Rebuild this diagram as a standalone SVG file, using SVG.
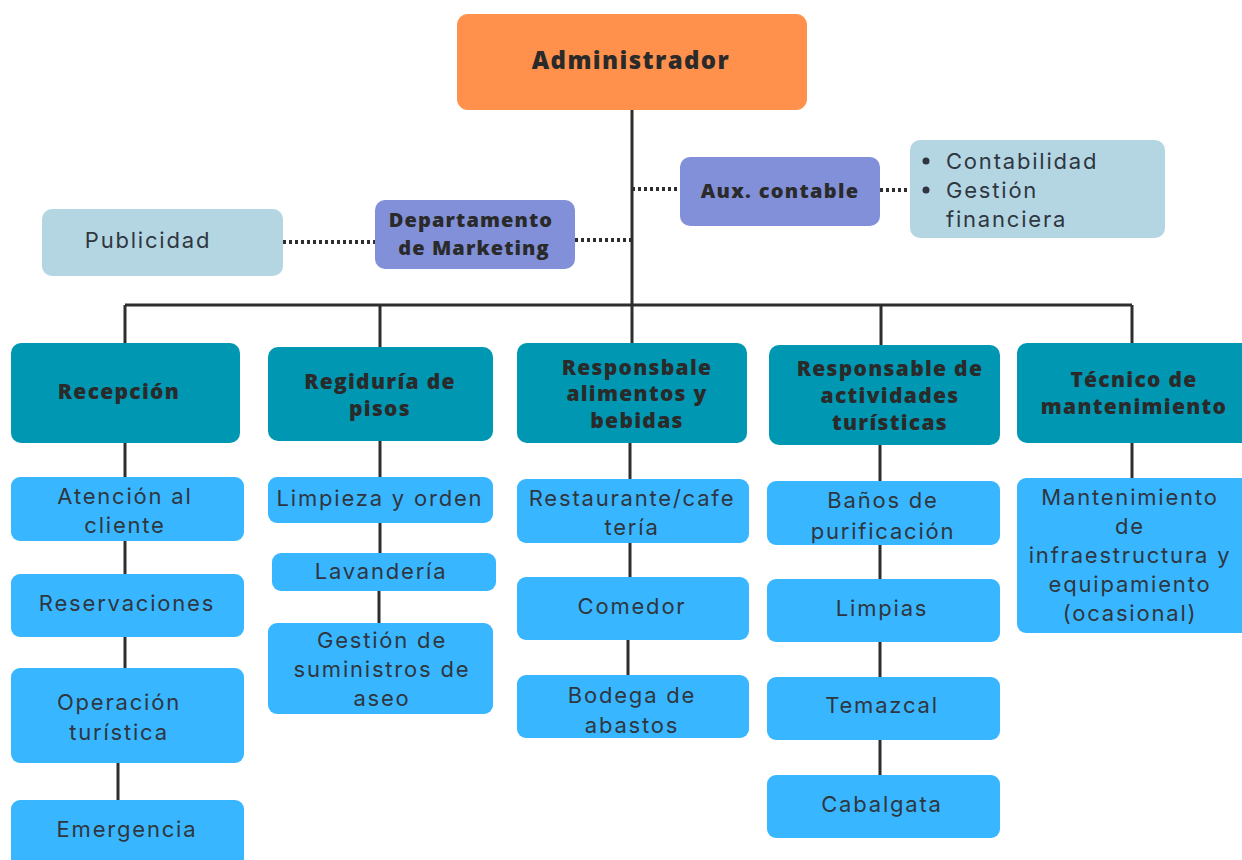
<svg xmlns="http://www.w3.org/2000/svg" width="1242" height="860" viewBox="0 0 1242 860">
  <style>
    .line { stroke: #2e2e2e; stroke-width: 3; fill: none; }
    .dots { stroke: #2e2e2e; stroke-width: 4; stroke-dasharray: 3 3; fill: none; }
    .boss { fill: #FF914D; }
    .aux { fill: #8190D8; }
    .pale { fill: #B4D6E3; }
    .head { fill: #0097B2; }
    .task { fill: #38B6FF; }
    .bt { font-family: "Open Sans", "Liberation Sans", sans-serif; font-weight: 800; font-size: 21px; fill: #2a2a2a; text-anchor: middle; letter-spacing: 1.3px; }
    .nt { font-family: Inter, "Liberation Sans", sans-serif; font-weight: 400; font-size: 22px; fill: #2f3640; text-anchor: middle; letter-spacing: 1.8px; }
  </style>

  <!-- connectors -->
  <g id="connectors">
    <path class="line" d="M632 110 V305 M125 305 H1132 M125 305 V343 M380 305 V347 M632 305 V343 M881 305 V345 M1132 305 V343"/>
    <path class="line" d="M125 443 V477 M125 541 V574 M125 637 V668 M118 763 V800"/>
    <path class="line" d="M380 441 V477 M380 523 V553 M379 591 V623"/>
    <path class="line" d="M630 443 V479 M630 543 V577 M628 640 V675"/>
    <path class="line" d="M880 445 V481 M880 545 V579 M880 642 V677 M880 740 V775"/>
    <path class="line" d="M1132 443 V478"/>
    <path class="dots" d="M632 189 H680 M880 190 H910 M575 240 H632 M283 242 H375"/>
  </g>

  <g id="administrador">
    <rect class="boss" x="457" y="14" width="350" height="96" rx="11"/>
    <text class="bt" x="631" y="69" style="font-size:24px;letter-spacing:1.4px">Administrador</text>
  </g>

  <g id="aux-contable">
    <rect class="aux" x="680" y="157" width="200" height="69" rx="10"/>
    <text class="bt" x="780" y="198" style="font-size:20px;letter-spacing:1.3px">Aux. contable</text>
  </g>

  <g id="finanzas">
    <rect class="pale" x="910" y="140" width="255" height="98" rx="10"/>
    <circle cx="926" cy="161" r="3.5" fill="#2f3640"/>
    <circle cx="926" cy="190" r="3.5" fill="#2f3640"/>
    <text class="nt" x="946" y="169" style="text-anchor:start">Contabilidad</text>
    <text class="nt" x="946" y="198" style="text-anchor:start">Gestión</text>
    <text class="nt" x="946" y="227" style="text-anchor:start">financiera</text>
  </g>

  <g id="marketing">
    <rect class="aux" x="375" y="200" width="200" height="69" rx="10"/>
    <text class="bt" x="471" y="227" style="font-size:20px;letter-spacing:1.1px">Departamento</text>
    <text class="bt" x="474" y="255" style="font-size:20px;letter-spacing:1.1px">de Marketing</text>
  </g>

  <g id="publicidad">
    <rect class="pale" x="42" y="209" width="241" height="67" rx="10"/>
    <text class="nt" x="148" y="248">Publicidad</text>
  </g>

  <!-- area heads -->
  <g id="recepcion">
    <rect class="head" x="11" y="343" width="229" height="100" rx="10"/>
    <text class="bt" x="119" y="399">Recepción</text>
  </g>
  <g id="regiduria">
    <rect class="head" x="268" y="347" width="225" height="94" rx="10"/>
    <text class="bt" x="380" y="389">Regiduría de</text>
    <text class="bt" x="380" y="416">pisos</text>
  </g>
  <g id="alimentos">
    <rect class="head" x="517" y="343" width="230" height="100" rx="10"/>
    <text class="bt" x="637" y="375">Responsbale</text>
    <text class="bt" x="637" y="401">alimentos y</text>
    <text class="bt" x="637" y="428">bebidas</text>
  </g>
  <g id="actividades">
    <rect class="head" x="769" y="345" width="231" height="100" rx="10"/>
    <text class="bt" x="890" y="376">Responsable de</text>
    <text class="bt" x="890" y="403">actividades</text>
    <text class="bt" x="890" y="430">turísticas</text>
  </g>
  <g id="mantenimiento">
    <rect class="head" x="1017" y="343" width="235" height="100" rx="10"/>
    <text class="bt" x="1134" y="387">Técnico de</text>
    <text class="bt" x="1134" y="414">mantenimiento</text>
  </g>

  <!-- Recepción tasks -->
  <g id="atencion">
    <rect class="task" x="11" y="477" width="233" height="64" rx="9"/>
    <text class="nt" x="125" y="504">Atención al</text>
    <text class="nt" x="125" y="533">cliente</text>
  </g>
  <g id="reservaciones">
    <rect class="task" x="11" y="574" width="233" height="63" rx="9"/>
    <text class="nt" x="127" y="611">Reservaciones</text>
  </g>
  <g id="operacion">
    <rect class="task" x="11" y="668" width="233" height="95" rx="9"/>
    <text class="nt" x="119" y="710">Operación</text>
    <text class="nt" x="119" y="740">turística</text>
  </g>
  <g id="emergencia">
    <rect class="task" x="11" y="800" width="233" height="70" rx="9"/>
    <text class="nt" x="127" y="837">Emergencia</text>
  </g>

  <!-- Regiduría tasks -->
  <g id="limpieza">
    <rect class="task" x="268" y="477" width="225" height="46" rx="9"/>
    <text class="nt" x="380" y="506">Limpieza y orden</text>
  </g>
  <g id="lavanderia">
    <rect class="task" x="272" y="553" width="224" height="38" rx="9"/>
    <text class="nt" x="381" y="579">Lavandería</text>
  </g>
  <g id="suministros">
    <rect class="task" x="268" y="623" width="225" height="91" rx="9"/>
    <text class="nt" x="382" y="648">Gestión de</text>
    <text class="nt" x="382" y="677">suministros de</text>
    <text class="nt" x="382" y="706">aseo</text>
  </g>

  <!-- Alimentos tasks -->
  <g id="restaurante">
    <rect class="task" x="517" y="479" width="232" height="64" rx="9"/>
    <text class="nt" x="632" y="506">Restaurante/cafe</text>
    <text class="nt" x="632" y="535">tería</text>
  </g>
  <g id="comedor">
    <rect class="task" x="517" y="577" width="232" height="63" rx="9"/>
    <text class="nt" x="632" y="614">Comedor</text>
  </g>
  <g id="bodega">
    <rect class="task" x="517" y="675" width="232" height="63" rx="9"/>
    <text class="nt" x="632" y="703">Bodega de</text>
    <text class="nt" x="632" y="733">abastos</text>
  </g>

  <!-- Actividades tasks -->
  <g id="banos">
    <rect class="task" x="767" y="481" width="233" height="64" rx="9"/>
    <text class="nt" x="883" y="508">Baños de</text>
    <text class="nt" x="883" y="539">purificación</text>
  </g>
  <g id="limpias">
    <rect class="task" x="767" y="579" width="233" height="63" rx="9"/>
    <text class="nt" x="882" y="616">Limpias</text>
  </g>
  <g id="temazcal">
    <rect class="task" x="767" y="677" width="233" height="63" rx="9"/>
    <text class="nt" x="882" y="713">Temazcal</text>
  </g>
  <g id="cabalgata">
    <rect class="task" x="767" y="775" width="233" height="63" rx="9"/>
    <text class="nt" x="882" y="812">Cabalgata</text>
  </g>

  <!-- Mantenimiento task -->
  <g id="infraestructura">
    <rect class="task" x="1017" y="478" width="235" height="155" rx="9"/>
    <text class="nt" x="1130" y="505">Mantenimiento</text>
    <text class="nt" x="1130" y="534">de</text>
    <text class="nt" x="1130" y="563">infraestructura y</text>
    <text class="nt" x="1130" y="592">equipamiento</text>
    <text class="nt" x="1130" y="621">(ocasional)</text>
  </g>
</svg>
